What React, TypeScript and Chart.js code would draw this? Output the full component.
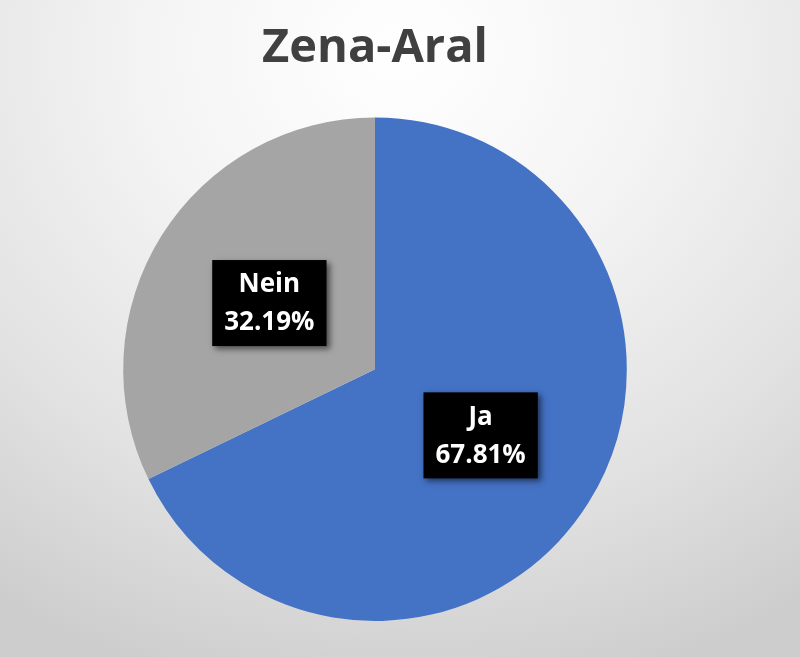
import React, { useEffect, useRef } from "react";
import { Chart, registerables } from "chart.js";

Chart.register(...registerables);

const title = "Zena-Aral";
const categories = ["Ja", "Nein"];
const values = [67.81, 32.19];
const colors = ["#4472C4", "#A5A5A5"];

const labelPlugin = {
  id: "boxLabels",
  afterDatasetsDraw(chart: any) {
    const ctx = chart.ctx;
    const meta = chart.getDatasetMeta(0);
    meta.data.forEach((arc: any, i: number) => {
      const p = arc.getProps(["x", "y", "startAngle", "endAngle", "outerRadius"], true);
      const mid = (p.startAngle + p.endAngle) / 2;
      const r = p.outerRadius * 0.495;
      const cx = p.x + Math.cos(mid) * r;
      const cy = p.y + Math.sin(mid) * r;
      const line1 = categories[i];
      const line2 = values[i].toFixed(2) + "%";
      ctx.save();
      ctx.font = "bold 26px 'Open Sans'";
      const w = Math.max(ctx.measureText(line1).width, ctx.measureText(line2).width) + 24;
      const h = 86;
      ctx.shadowColor = "rgba(0,0,0,0.55)";
      ctx.shadowBlur = 6;
      ctx.shadowOffsetX = 3;
      ctx.shadowOffsetY = 3;
      ctx.fillStyle = "#000000";
      ctx.fillRect(cx - w / 2, cy - h / 2, w, h);
      ctx.shadowColor = "transparent";
      ctx.fillStyle = "#ffffff";
      ctx.textAlign = "center";
      ctx.textBaseline = "middle";
      ctx.fillText(line1, cx, cy - 18);
      ctx.fillText(line2, cx, cy + 20);
      ctx.restore();
    });
  },
};

export default function App() {
  const ref = useRef<HTMLCanvasElement>(null);
  useEffect(() => {
    document.body.style.margin = "0";
    const chart = new Chart(ref.current!, {
      type: "pie",
      data: {
        labels: categories,
        datasets: [
          {
            data: values,
            backgroundColor: colors,
            borderWidth: 0,
          },
        ],
      },
      options: {
        animation: false,
        responsive: false,
        layout: { padding: { left: 0, right: 50, top: 0, bottom: 36 } },
        plugins: {
          legend: { display: false },
          tooltip: { enabled: false },
          title: {
            display: true,
            text: title,
            color: "#404040",
            font: { family: "'Open Sans'", size: 47, weight: "bold", lineHeight: 1.2 },
            padding: { top: 20, bottom: 41 },
          },
        },
      },
      plugins: [labelPlugin],
    });
    return () => chart.destroy();
  }, []);
  return (
    <div
      style={{
        position: "absolute",
        left: 0,
        top: 0,
        width: 800,
        height: 657,
        background:
          "radial-gradient(ellipse 90% 100% at 50% 8%, #ffffff 0%, #f4f4f4 35%, #e2e2e2 70%, #cdcdcd 100%)",
      }}
    >
      <canvas ref={ref} width={800} height={657} style={{ display: "block" }} />
    </div>
  );
}
